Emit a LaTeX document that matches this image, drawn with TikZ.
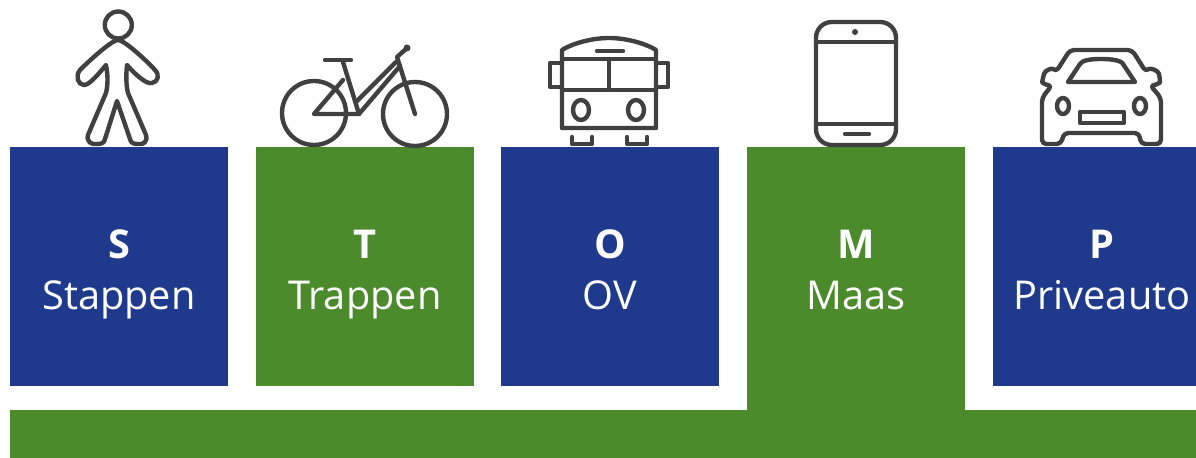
\documentclass[tikz,border=0pt]{standalone}
\usepackage{fontspec}
\setmainfont{Open Sans}
\usetikzlibrary{positioning}
\definecolor{boxblue}{HTML}{1F3A8C}
\definecolor{boxgreen}{HTML}{4B8B2B}
\definecolor{iconcol}{HTML}{404040}

\begin{document}
\begin{tikzpicture}[
  x=0.01cm, y=-0.01cm,
  bluebox/.style={fill=boxblue, inner sep=0pt, outer sep=0pt, minimum width=2.18cm, minimum height=2.39cm},
  greenbox/.style={fill=boxgreen, inner sep=0pt, outer sep=0pt, minimum width=2.18cm, minimum height=2.39cm},
  hdr/.style={anchor=base, text=white, inner sep=0pt, font=\fontsize{11.3}{13}\selectfont\bfseries},
  lbl/.style={anchor=base, text=white, inner sep=0pt, font=\fontsize{11.3}{13}\selectfont},
  iconline/.style={draw=iconcol, line width=1.25pt, line cap=round, line join=round, rounded corners=1.2pt},
  thinline/.style={draw=iconcol, line width=1.25pt, line cap=round, line join=round}
]
\useasboundingbox (0,0) rectangle (1196,458);

% boxes
\node[bluebox] (sbox) at (119,266.5) {};
\node[greenbox] (tbox) at (365,266.5) {};
\node[bluebox] (obox) at (610,266.5) {};
\node[greenbox, minimum height=2.63cm] (mbox) at (856,278.5) {};
\node[bluebox, minimum width=2.03cm] (pbox) at (1094.5,266.5) {};
\node[fill=boxgreen, inner sep=0pt, outer sep=0pt, minimum width=11.86cm, minimum height=0.48cm] (bar) at (603,434) {};

% texts
\node[hdr] (shdr) at (119,259) {S};
\node[lbl] (slbl) at (119,310) {Stappen};
\node[hdr] (thdr) at (365,259) {T};
\node[lbl] (tlbl) at (365,310) {Trappen};
\node[hdr] (ohdr) at (610,259) {O};
\node[lbl] (olbl) at (610,310) {OV};
\node[hdr] (mhdr) at (856,259) {M};
\node[lbl] (mlbl) at (856,310) {Maas};
\node[hdr] (phdr) at (1102,259) {P};
\node[lbl] (plbl) at (1102,310) {Priveauto};

% walker
\draw[thinline] (118.3,25) circle (13.5);
\draw[thinline] (118,40) .. controls (112,40) and (90,60) .. (80,70)
  .. controls (75,76) and (78,85) .. (84,85) .. controls (90,85) and (100,72) .. (106,65)
  .. controls (108,75) and (108,85) .. (106,93) -- (88,135)
  .. controls (86,142) and (92,145) .. (97,144) .. controls (102,144) and (104,143) .. (105,139)
  -- (117,101) -- (130,139) .. controls (131,143) and (133,144) .. (138,144)
  .. controls (143,145) and (148,142) .. (146,135) -- (128,93)
  .. controls (126,85) and (126,75) .. (127,65) .. controls (133,72) and (146,85) .. (152,83)
  .. controls (158,82) and (160,75) .. (155,70) .. controls (146,60) and (124,40) .. (118,40) -- cycle;

% bike
\draw[thinline] (314,113) circle (32);
\draw[thinline] (415,114) circle (32);
\draw[thinline] (325,60) -- (351,60);
\draw[thinline] (343,62) -- (359,114) -- (314,114) -- (343,80);
\draw[thinline] (359,114) -- (400,66);
\draw[thinline] (356,102) -- (396,62);
\draw[thinline] (415,114) -- (397,57) -- (406,49);
\fill[iconcol] (407,48) circle (3.5);

% bus
\draw[thinline] (562,128) -- (562,50) .. controls (575,42) and (595,38) .. (609,38)
  .. controls (623,38) and (643,42) .. (656,50) -- (656,128) -- cycle;
\draw[thinline] (562,59) -- (656,59);
\draw[thinline] (562,90) -- (656,90);
\draw[thinline] (609,59) -- (609,90);
\draw[thinline] (597,51) -- (623,51);
\draw[thinline] (562,63) -- (550,63) -- (550,87) -- (562,87);
\draw[thinline] (656,63) -- (668,63) -- (668,87) -- (656,87);
\draw[thinline] (581,110) ellipse (8 and 10);
\draw[thinline] (636,110) ellipse (8 and 10);
\draw[thinline] (572,137) -- (572,144) -- (592,144) -- (592,137);
\draw[thinline] (627,137) -- (627,144) -- (647,144) -- (647,137);

% phone
\draw[thinline, rounded corners=4.5pt] (816,22) rectangle (896,145);
\draw[thinline] (816,42) -- (896,42);
\draw[thinline] (816,124) -- (896,124);
\fill[iconcol] (855,32) circle (3);
\draw[thinline] (845,134) -- (869,134);

% car
\draw[iconline] (1070,50) -- (1132,50) -- (1146,72) .. controls (1150,68) and (1158,70) .. (1160,78)
  .. controls (1160,83) and (1155,85) .. (1150,85) -- (1161,98) -- (1161,144) -- (1141,144)
  -- (1139,133) -- (1064,133) -- (1061,144) -- (1042,144) -- (1042,98) -- (1052,85)
  .. controls (1047,85) and (1042,83) .. (1043,78) .. controls (1045,70) and (1052,68) .. (1056,72) -- cycle;
\draw[thinline] (1068,82) -- (1135,82) -- (1123,64) .. controls (1121,60) and (1110,59) .. (1101,59)
  .. controls (1092,59) and (1082,60) .. (1080,64) -- cycle;
\draw[thinline] (1063,106) ellipse (6 and 8);
\draw[thinline] (1140,106) ellipse (6 and 8);
\draw[thinline] (1080,112) rectangle (1124,123);

\end{tikzpicture}
\end{document}
